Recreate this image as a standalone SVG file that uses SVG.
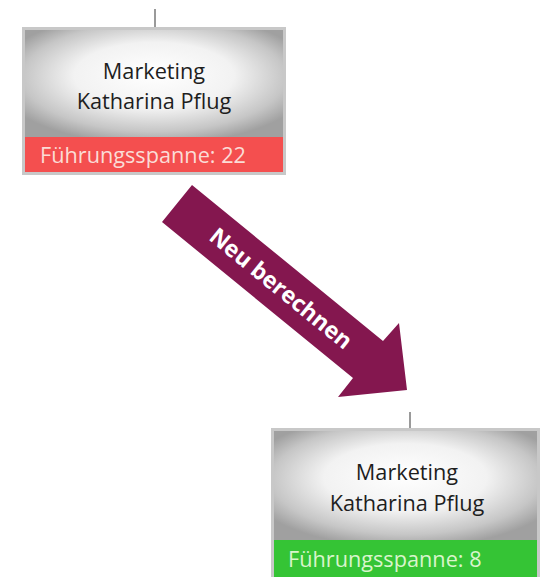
<svg xmlns="http://www.w3.org/2000/svg" width="541" height="577" viewBox="0 0 541 577">
<defs>
<radialGradient id="boxg" cx="0.5" cy="0.45" r="0.62" fx="0.5" fy="0.4">
<stop offset="0" stop-color="#ffffff"/>
<stop offset="0.5" stop-color="#f2f2f2"/>
<stop offset="0.82" stop-color="#c6c6c6"/>
<stop offset="1" stop-color="#a0a0a0"/>
</radialGradient>
<style>
.frame{fill:#d4d4d4;stroke:#c8c8c8;stroke-width:3}
.face{fill:url(#boxg)}
.conn{stroke:#9a9a9a;stroke-width:2;fill:none}
.name{font-family:"Open Sans","Noto Sans",sans-serif;font-size:21.7px;fill:#1e1e1e;text-anchor:middle}
.span{font-family:"Open Sans","Noto Sans",sans-serif;font-size:21.7px}
.red{fill:#f44f4f}
.green{fill:#35c435}
.arrowtxt{font-family:"Open Sans","Noto Sans",sans-serif;font-size:23px;font-weight:bold;fill:#ffffff;text-anchor:middle}
</style>
</defs>
<g id="connectors">
<line class="conn" x1="155" y1="9" x2="155" y2="27"/>
<line class="conn" x1="410" y1="412" x2="410" y2="428"/>
</g>
<g id="node-top">
<rect class="frame" x="23.5" y="28.5" width="261" height="145"/>
<rect class="face" x="25" y="30" width="258" height="107"/>
<rect class="red" x="25" y="137" width="258" height="35"/>
<text class="name" x="154" y="79">Marketing</text>
<text class="name" x="154" y="109">Katharina Pflug</text>
<text class="span" x="40" y="163" fill="#fbdcd6">Führungsspanne: 22</text>
</g>
<g id="arrow">
<polygon points="192,185 162,222 353,378 338,397 407,390 399,323 383,341" fill="#84174f"/>
<text class="arrowtxt" transform="translate(281,288.5) rotate(39.2)" x="0" y="8">Neu berechnen</text>
</g>
<g id="node-bottom">
<rect class="frame" x="272.5" y="429.5" width="266" height="150"/>
<rect class="face" x="274" y="431" width="263" height="109"/>
<rect class="green" x="274" y="540" width="263" height="40"/>
<text class="name" x="407" y="480">Marketing</text>
<text class="name" x="407" y="511">Katharina Pflug</text>
<text class="span" x="288" y="567" fill="#d9f5cc">Führungsspanne: 8</text>
</g>
</svg>
